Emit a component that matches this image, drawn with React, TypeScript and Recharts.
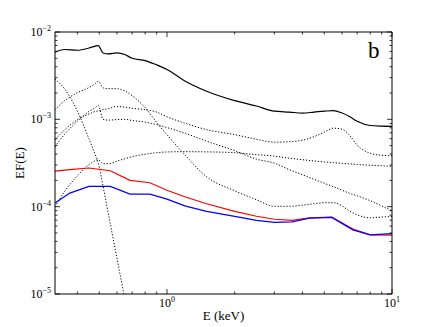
import { LineChart, Line, XAxis, YAxis } from 'recharts'

// model grid (keV) and components, EF(E)
const modelE = [0.318, 0.35, 0.4, 0.45, 0.48, 0.495, 0.52, 0.55, 0.6, 0.65, 0.7, 0.8, 0.9, 1.0, 1.2, 1.5, 2, 2.5, 3, 3.5, 4, 4.5, 5, 5.5, 6, 6.5, 7, 8, 9, 10]
const total = [5.86e-3, 6.3e-3, 6.18e-3, 6.56e-3, 6.9e-3, 7.0e-3, 5.75e-3, 5.62e-3, 5.77e-3, 5.52e-3, 5.0e-3, 4.71e-3, 4.2e-3, 3.72e-3, 2.75e-3, 2.1e-3, 1.64e-3, 1.42e-3, 1.24e-3, 1.21e-3, 1.18e-3, 1.21e-3, 1.24e-3, 1.26e-3, 1.18e-3, 1.07e-3, 9.5e-4, 8.5e-4, 8.35e-4, 8.3e-4]
const bbody = [2.9e-3, 2.25e-3, 1.24e-3, 6.0e-4, 3.94e-4, 3.18e-4, 1.71e-4, 8.07e-5, 2.53e-5, 8.7e-6, null, null, null, null, null, null, null, null, null, null, null, null, null, null, null, null, null, null, null, null]
const coolApec = [1.29e-3, 1.62e-3, 2.02e-3, 2.31e-3, 2.57e-3, 2.73e-3, 2.29e-3, 2.25e-3, 2.24e-3, 2.11e-3, 1.87e-3, 1.36e-3, 9.2e-4, 6.68e-4, 3.94e-4, 2.2e-4, 1.52e-4, 1.2e-4, 1.01e-4, 1.01e-4, 1.04e-4, 1.08e-4, 1.11e-4, 1.11e-4, 1.02e-4, 8.85e-5, 8.07e-5, 7.46e-5, 7.6e-5, 7.73e-5]
const hotApec = [5.85e-4, 7.51e-4, 9.93e-4, 1.15e-3, 1.23e-3, 1.25e-3, 1.29e-3, 1.33e-3, 1.4e-3, 1.38e-3, 1.34e-3, 1.29e-3, 1.21e-3, 1.07e-3, 9.04e-4, 7.62e-4, 6.68e-4, 5.92e-4, 5.48e-4, 5.55e-4, 5.77e-4, 6.33e-4, 7.13e-4, 7.92e-4, 7.72e-4, 6.5e-4, 5.06e-4, 4.09e-4, 3.88e-4, 3.83e-4]
const warmApec = [4.86e-4, 6.68e-4, 9.53e-4, 1.23e-3, 1.36e-3, 1.44e-3, 1.0e-3, 9.8e-4, 9.93e-4, 1.0e-3, 9.7e-4, 9.28e-4, 8.69e-4, 8.04e-4, 6.95e-4, 5.62e-4, 4.38e-4, 3.5e-4, 3.15e-4, 2.65e-4, 2.32e-4, 2.06e-4, 1.85e-4, 1.69e-4, 1.54e-4, 1.42e-4, 1.33e-4, 1.17e-4, 1.02e-4, 8.97e-5]
const powerlaw = [9.97e-5, 1.48e-4, 2.26e-4, 3.03e-4, 3.36e-4, 3.45e-4, 3.1e-4, 3.1e-4, 3.32e-4, 3.54e-4, 3.73e-4, 3.99e-4, 4.15e-4, 4.23e-4, 4.26e-4, 4.24e-4, 4.15e-4, 3.94e-4, 3.79e-4, 3.59e-4, 3.45e-4, 3.34e-4, 3.25e-4, 3.19e-4, 3.13e-4, 3.09e-4, 3.04e-4, 2.98e-4, 2.94e-4, 2.89e-4]

// binned curves (red / blue)
const binE = [0.318, 0.37, 0.45, 0.56, 0.685, 0.84, 1.0, 1.2, 1.5, 2, 2.5, 3, 3.6, 4.3, 5.4, 6.7, 8, 10]
const red = [2.55e-4, 2.66e-4, 2.77e-4, 2.58e-4, 2.0e-4, 1.88e-4, 1.54e-4, 1.3e-4, 1.08e-4, 8.85e-5, 7.76e-5, 7.18e-5, 6.98e-5, 7.46e-5, 7.6e-5, 5.53e-5, 4.76e-5, 4.72e-5]
const blue = [1.1e-4, 1.43e-4, 1.71e-4, 1.71e-4, 1.39e-4, 1.39e-4, 1.22e-4, 1.02e-4, 8.85e-5, 7.76e-5, 6.98e-5, 6.61e-5, 6.71e-5, 7.39e-5, 7.52e-5, 5.43e-5, 4.76e-5, 4.91e-5]

const xMajor = [1, 10]
const xMinor = [0.4, 0.5, 0.6, 0.7, 0.8, 0.9, 2, 3, 4, 5, 6, 7, 8, 9]
const yMajor = [1e-5, 1e-4, 1e-3, 1e-2]
const yMinor = [1e-5, 1e-4, 1e-3].flatMap((d) => [2, 3, 4, 5, 6, 7, 8, 9].map((m) => m * d))

const xTicks = [...xMinor, ...xMajor].sort((a, b) => a - b)
const yTicks = [...yMinor, ...yMajor].sort((a, b) => a - b)

const modelRows = modelE.map((e, i) => ({
  e,
  total: total[i],
  bbody: bbody[i],
  coolApec: coolApec[i],
  hotApec: hotApec[i],
  warmApec: warmApec[i],
  powerlaw: powerlaw[i],
}))
const binRows = binE.map((e, i) => ({ e, red: red[i], blue: blue[i] }))

const FONT = '"Liberation Serif", "DejaVu Serif", serif'
const X_DOMAIN: [number, number] = [0.318, 10]
const Y_DOMAIN: [number, number] = [1e-5, 1e-2]

const isMajor = (v: number) => {
  const l = Math.log10(v)
  return Math.abs(l - Math.round(l)) < 1e-6
}
const expText = (v: number) => {
  const p = Math.round(Math.log10(v))
  return p < 0 ? `\u2212${-p}` : `${p}`
}

const BottomTick = ({ x, y, payload }: any) => {
  const major = isMajor(payload.value)
  return (
    <g>
      <line x1={x} y1={y} x2={x} y2={y - (major ? 5 : 2.5)} stroke="#000" strokeWidth={0.8} />
      {major && (
        <text x={x} y={y + 13} textAnchor="middle" fontFamily={FONT} fontSize={12} fill="#000">
          10<tspan dy={-5} fontSize={8}>{expText(payload.value)}</tspan>
        </text>
      )}
    </g>
  )
}

const TopTick = ({ x, y, payload }: any) => {
  const major = isMajor(payload.value)
  return <line x1={x} y1={y} x2={x} y2={y + (major ? 5 : 2.5)} stroke="#000" strokeWidth={0.8} />
}

const LeftTick = ({ x, y, payload }: any) => {
  const major = isMajor(payload.value)
  return (
    <g>
      <line x1={x} y1={y} x2={x + (major ? 5 : 2.5)} y2={y} stroke="#000" strokeWidth={0.8} />
      {major && (
        <text x={x - 4} y={y + 4} textAnchor="end" fontFamily={FONT} fontSize={12} fill="#000">
          10<tspan dy={-5} fontSize={8}>{expText(payload.value)}</tspan>
        </text>
      )}
    </g>
  )
}

const RightTick = ({ x, y, payload }: any) => {
  const major = isMajor(payload.value)
  return <line x1={x} y1={y} x2={x - (major ? 5 : 2.5)} y2={y} stroke="#000" strokeWidth={0.8} />
}

const XTitle = ({ viewBox }: any) => (
  <text x={viewBox.x + viewBox.width / 2} y={viewBox.y + 26} textAnchor="middle" fontFamily={FONT} fontSize={13} fill="#000">
    E (keV)
  </text>
)

const YTitle = ({ viewBox }: any) => {
  const cx = 24
  const cy = viewBox.y + viewBox.height / 2
  return (
    <text x={cx} y={cy} transform={`rotate(-90 ${cx} ${cy})`} textAnchor="middle" fontFamily={FONT} fontSize={13} fill="#000">
      EF(E)
    </text>
  )
}

const PanelTag = ({ viewBox }: any) => (
  <text x={viewBox.x + viewBox.width - 24} y={viewBox.y + viewBox.height + 26} fontFamily={FONT} fontSize={23} fill="#000">
    b
  </text>
)

const dotted = { stroke: '#000', strokeWidth: 1, strokeDasharray: '1.2 1.8' }

export default function App() {
  return (
    <div style={{ position: 'absolute', left: 0, top: 0, width: 436, height: 327, background: '#fff' }}>
      <LineChart width={436} height={327} margin={{ top: 12, right: 24, bottom: 0, left: 0 }}>
        <XAxis
          dataKey="e"
          type="number"
          scale="log"
          domain={X_DOMAIN}
          allowDataOverflow
          ticks={xTicks}
          interval={0}
          tick={<BottomTick />}
          tickLine={false}
          tickSize={0}
          tickMargin={0}
          height={33}
          axisLine={{ stroke: '#000', strokeWidth: 1 }}
          label={<XTitle />}
        />
        <XAxis
          xAxisId="top"
          orientation="top"
          dataKey="e"
          type="number"
          scale="log"
          domain={X_DOMAIN}
          allowDataOverflow
          ticks={xTicks}
          interval={0}
          tick={<TopTick />}
          tickLine={false}
          tickSize={0}
          tickMargin={0}
          height={20}
          axisLine={{ stroke: '#000', strokeWidth: 1 }}
          label={<PanelTag />}
        />
        <YAxis
          type="number"
          scale="log"
          domain={Y_DOMAIN}
          allowDataOverflow
          ticks={yTicks}
          interval={0}
          tick={<LeftTick />}
          tickLine={false}
          tickSize={0}
          tickMargin={0}
          width={55}
          axisLine={{ stroke: '#000', strokeWidth: 1 }}
          label={<YTitle />}
        />
        <YAxis
          yAxisId="right"
          orientation="right"
          type="number"
          scale="log"
          domain={Y_DOMAIN}
          allowDataOverflow
          ticks={yTicks}
          interval={0}
          tick={<RightTick />}
          tickLine={false}
          tickSize={0}
          tickMargin={0}
          width={20}
          axisLine={{ stroke: '#000', strokeWidth: 1 }}
        />
        {/* invisible series so the top and right frame axes get drawn */}
        <Line data={modelRows} dataKey="total" xAxisId="top" yAxisId="right" stroke="none" dot={false} activeDot={false} isAnimationActive={false} />
        <Line data={modelRows} dataKey="bbody" type="monotone" {...dotted} dot={false} activeDot={false} isAnimationActive={false} />
        <Line data={modelRows} dataKey="coolApec" type="monotone" {...dotted} dot={false} activeDot={false} isAnimationActive={false} />
        <Line data={modelRows} dataKey="warmApec" type="monotone" {...dotted} dot={false} activeDot={false} isAnimationActive={false} />
        <Line data={modelRows} dataKey="hotApec" type="monotone" {...dotted} dot={false} activeDot={false} isAnimationActive={false} />
        <Line data={modelRows} dataKey="powerlaw" type="monotone" {...dotted} dot={false} activeDot={false} isAnimationActive={false} />
        <Line data={modelRows} dataKey="total" type="monotone" stroke="#000" strokeWidth={1.2} dot={false} activeDot={false} isAnimationActive={false} />
        <Line data={binRows} dataKey="red" type="linear" stroke="#ff0000" strokeWidth={1.2} dot={false} activeDot={false} isAnimationActive={false} />
        <Line data={binRows} dataKey="blue" type="linear" stroke="#0000ff" strokeWidth={1.2} dot={false} activeDot={false} isAnimationActive={false} />
      </LineChart>
    </div>
  )
}
